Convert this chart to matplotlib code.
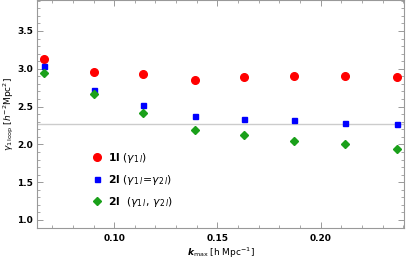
import matplotlib
matplotlib.use("Agg")
import matplotlib.pyplot as plt
from matplotlib.ticker import MultipleLocator

# data
kmax = [0.066, 0.090, 0.114, 0.139, 0.163, 0.187, 0.212, 0.237]
gam_1l = [3.13, 2.955, 2.93, 2.85, 2.89, 2.91, 2.90, 2.89]
gam_2l_eq = [3.04, 2.72, 2.52, 2.38, 2.34, 2.325, 2.285, 2.27]
gam_2l = [2.95, 2.67, 2.41, 2.19, 2.12, 2.05, 2.01, 1.94]
ref_line = 2.27

labels = [r"$\mathbf{1l}$ $(\gamma_{1\,l})$",
          r"$\mathbf{2l}$ $(\gamma_{1\,l}\!=\!\gamma_{2\,l})$",
          r"$\mathbf{2l}$  $(\gamma_{1\,l},\,\gamma_{2\,l})$"]

fig = plt.figure(figsize=(4.07, 2.63), dpi=100)
ax = fig.add_axes([37 / 407, 1 - 228 / 263, (404 - 37) / 407, 228 / 263])

ax.axhline(ref_line, color="#cccccc", lw=1, zorder=1)
ax.plot(kmax, gam_1l, "o", color="#ff0000", ms=5.5, ls="none", label=labels[0], zorder=3)
ax.plot(kmax, gam_2l_eq, "s", color="#0000ff", ms=3.6, ls="none", label=labels[1], zorder=3)
ax.plot(kmax, gam_2l, "D", color="#1aa01a", ms=4.3, ls="none", label=labels[2], zorder=3)

ax.set_xlim(0.0626, 0.2404)
ax.set_ylim(0.894, 3.91)
ax.xaxis.set_major_locator(MultipleLocator(0.05))
ax.xaxis.set_minor_locator(MultipleLocator(0.01))
ax.yaxis.set_major_locator(MultipleLocator(0.5))
ax.yaxis.set_minor_locator(MultipleLocator(0.1))
ax.xaxis.set_major_formatter(matplotlib.ticker.FormatStrFormatter("%.2f"))
ax.yaxis.set_major_formatter(matplotlib.ticker.FormatStrFormatter("%.1f"))

for s in ax.spines.values():
    s.set_color("#999999")
    s.set_linewidth(0.8)
ax.tick_params(which="both", direction="in", top=True, right=True, color="#999999",
               labelsize=6.5)
ax.tick_params(axis="y", pad=3)
ax.tick_params(axis="x", pad=4)
ax.tick_params(which="major", length=4, width=0.7)
ax.tick_params(which="minor", length=2, width=0.6)
for t in ax.get_xticklabels() + ax.get_yticklabels():
    t.set_fontweight("bold")

ax.set_xlabel(r"$\boldsymbol{k}_{\mathrm{max}}$ [h Mpc$^{-1}$]", fontsize=6.5, labelpad=2)
ax.set_ylabel(r"$\gamma_{1\,\mathrm{loop}}$ [$h^{-2}$Mpc$^{2}$]", fontsize=6.5, labelpad=1)

ax.legend(loc="lower left", bbox_to_anchor=(0.125, 0.04), frameon=False, fontsize=7.8,
          handletextpad=0.6, labelspacing=0.75, handlelength=0.8)

fig.savefig("out.png", dpi=100)
